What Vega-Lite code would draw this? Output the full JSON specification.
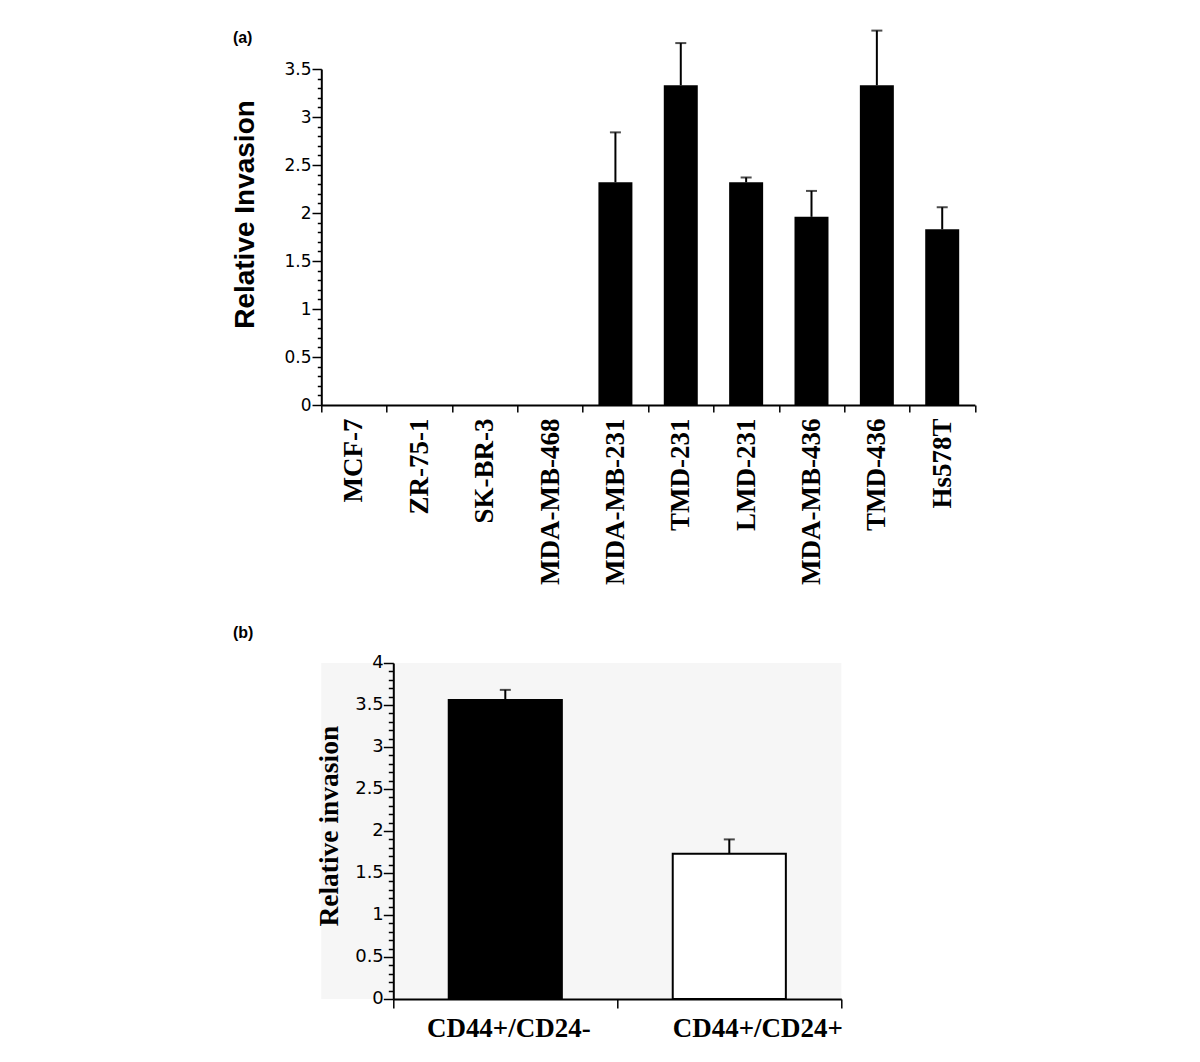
{
  "$schema": "https://vega.github.io/schema/vega-lite/v6.json",
  "padding": {"left": 231.3, "top": 29, "right": 10, "bottom": 5},
  "background": "white",
  "spacing": 40,
  "config": {
    "view": {"stroke": null},
    "axis": {"domainColor": "black", "tickColor": "black", "labelColor": "black", "titleColor": "black", "grid": false, "domainWidth": 2}
  },
  "vconcat": [
    {
      "width": 653.6,
      "height": 336,
      "title": {"text": "(a)", "anchor": "start", "frame": "group", "dx": -88.4, "offset": -29, "baseline": "alphabetic", "font": "Liberation Sans", "fontSize": 16, "fontWeight": "bold", "color": "black"},
      "data": {"values": [
        {"line": "MCF-7", "value": 0, "upper": null},
        {"line": "ZR-75-1", "value": 0, "upper": null},
        {"line": "SK-BR-3", "value": 0, "upper": null},
        {"line": "MDA-MB-468", "value": 0, "upper": null},
        {"line": "MDA-MB-231", "value": 2.32, "upper": 2.84},
        {"line": "TMD-231", "value": 3.33, "upper": 3.77},
        {"line": "LMD-231", "value": 2.32, "upper": 2.37},
        {"line": "MDA-MB-436", "value": 1.96, "upper": 2.23},
        {"line": "TMD-436", "value": 3.33, "upper": 3.9},
        {"line": "Hs578T", "value": 1.83, "upper": 2.06}
      ]},
      "encoding": {
        "x": {"field": "line", "type": "nominal", "sort": null, "scale": {"paddingInner": 0, "paddingOuter": 0},
          "axis": {"title": null, "labelAngle": -90, "labelAlign": "right", "labelBaseline": "middle", "labelFont": "Liberation Serif", "labelFontSize": 27, "labelFontWeight": "bold", "labelPadding": 6, "tickSize": 7, "tickBand": "extent", "tickWidth": 1.5, "domainWidth": 2, "labelOverlap": false}}
      },
      "resolve": {"axis": {"y": "independent"}},
      "layer": [
        {
          "mark": {"type": "bar", "color": "black", "width": {"band": 0.52}},
          "encoding": {
            "y": {"field": "value", "type": "quantitative", "scale": {"domain": [0, 3.5], "nice": false, "zero": true},
              "axis": {"orient": "left", "title": "Relative Invasion", "titleFont": "Liberation Sans", "titleFontSize": 28, "titleFontWeight": "bold", "titleAngle": -90, "titleBaseline": "alphabetic", "titleAlign": "center", "titleX": -67.4, "titleY": 145,
                "values": [0,0.1,0.2,0.3,0.4,0.5,0.6,0.7,0.8,0.9,1,1.1,1.2,1.3,1.4,1.5,1.6,1.7,1.8,1.9,2,2.1,2.2,2.3,2.4,2.5,2.6,2.7,2.8,2.9,3,3.1,3.2,3.3,3.4,3.5],
                "labelExpr": "round(datum.value*10) % 5 == 0 ? toString(round(datum.value*10)/10) : ''",
                "labelOverlap": false, "labelFont": "DejaVu Sans", "labelFontSize": 17, "labelPadding": 1, "labelBaseline": "middle",
                "tickSize": {"condition": {"test": "round(datum.value*10) % 5 == 0", "value": 9.3}, "value": 4},
                "tickWidth": 1.5, "domainWidth": 2}}
          }
        },
        {
          "transform": [{"filter": "datum.upper != null"}],
          "mark": {"type": "rule", "color": "black", "strokeWidth": 2},
          "encoding": {"y": {"field": "value", "type": "quantitative", "axis": null}, "y2": {"field": "upper"}}
        },
        {
          "transform": [{"filter": "datum.upper != null"}],
          "mark": {"type": "tick", "color": "black", "thickness": 2, "size": 11, "orient": "horizontal"},
          "encoding": {"y": {"field": "upper", "type": "quantitative", "axis": null}}
        }
      ]
    },
    {
      "width": 520,
      "height": 336,
      "view": {"fill": "#f6f6f6", "stroke": null},
      "title": {"text": "(b)", "anchor": "start", "frame": "group", "dx": -88.4, "offset": 0, "baseline": "alphabetic", "font": "Liberation Sans", "fontSize": 16, "fontWeight": "bold", "color": "black"},
      "data": {"values": [
        {"group": "CD44+/CD24-", "value": 3.56, "upper": 3.68},
        {"group": "CD44+/CD24+", "value": 1.73, "upper": 1.9}
      ]},
      "encoding": {
        "x": {"field": "group", "type": "nominal", "sort": null, "scale": {"paddingInner": 0, "paddingOuter": 0, "range": [72, 520]},
          "axis": {"title": null, "labelAngle": 0, "labelAlign": "center", "labelBaseline": "alphabetic", "labelFont": "Liberation Serif", "labelFontSize": 27, "labelFontWeight": "bold", "labelPadding": 28.4,
            "labelOffset": {"condition": {"test": "datum.value == 'CD44+/CD24+'", "value": 28}, "value": 3},
            "tickSize": 9, "tickBand": "extent", "tickWidth": 1.5, "domainWidth": 2, "labelOverlap": false}}
      },
      "resolve": {"axis": {"y": "independent"}},
      "layer": [
        {
          "mark": {"type": "bar", "stroke": "black", "strokeWidth": 2, "width": {"band": 0.505}},
          "encoding": {
            "fill": {"field": "group", "type": "nominal", "scale": {"domain": ["CD44+/CD24-", "CD44+/CD24+"], "range": ["black", "white"]}, "legend": null},
            "y": {"field": "value", "type": "quantitative", "scale": {"domain": [0, 4], "nice": false},
              "axis": {"orient": "left", "offset": -72, "title": "Relative invasion", "titleFont": "Liberation Serif", "titleFontSize": 27.5, "titleFontWeight": "bold", "titleAngle": -90, "titleBaseline": "alphabetic", "titleAlign": "center", "titleX": -55.4, "titleY": 162.7,
                "values": [0,0.1,0.2,0.3,0.4,0.5,0.6,0.7,0.8,0.9,1,1.1,1.2,1.3,1.4,1.5,1.6,1.7,1.8,1.9,2,2.1,2.2,2.3,2.4,2.5,2.6,2.7,2.8,2.9,3,3.1,3.2,3.3,3.4,3.5,3.6,3.7,3.8,3.9,4],
                "labelExpr": "round(datum.value*10) % 5 == 0 ? toString(round(datum.value*10)/10) : ''",
                "labelOverlap": false, "labelFont": "DejaVu Sans", "labelFontSize": 18, "labelPadding": 0, "labelBaseline": "middle",
                "tickSize": {"condition": {"test": "round(datum.value*10) % 5 == 0", "value": 10}, "value": 5},
                "tickWidth": 1.5, "domainWidth": 2}}
          }
        },
        {
          "mark": {"type": "rule", "color": "black", "strokeWidth": 2},
          "encoding": {"y": {"field": "value", "type": "quantitative", "axis": null}, "y2": {"field": "upper"}}
        },
        {
          "mark": {"type": "tick", "color": "black", "thickness": 2, "size": 11, "orient": "horizontal"},
          "encoding": {"y": {"field": "upper", "type": "quantitative", "axis": null}}
        }
      ]
    }
  ]
}
